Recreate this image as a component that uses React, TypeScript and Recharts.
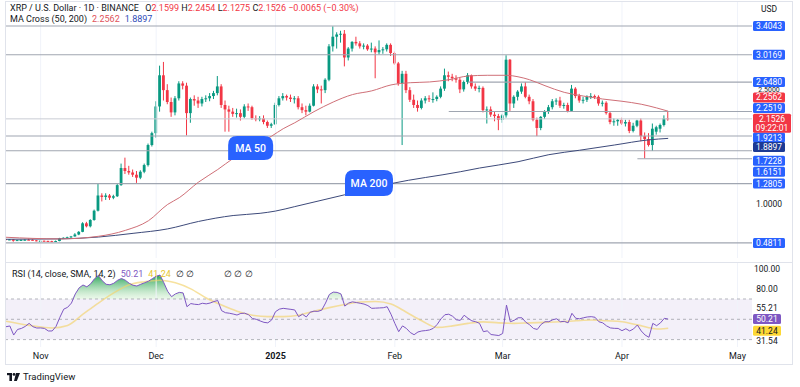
import React from 'react';
import {
  ComposedChart, Bar, Line, Area, XAxis, YAxis, ReferenceLine, ReferenceArea, ReferenceDot,
} from 'recharts';

// daily candles, XRP/USDT, 23 Oct 2024 .. 13 Apr 2025 (index = day number)
const openP = [
  0.532, 0.525, 0.528, 0.51, 0.519, 0.521, 0.524, 0.523, 0.516, 0.508,
  0.51, 0.508, 0.504, 0.497, 0.506, 0.543, 0.55, 0.557, 0.568, 0.594,
  0.63, 0.745, 0.705, 0.79, 0.915, 1.12, 1.1, 1.12, 1.09, 1.11,
  1.26, 1.49, 1.45, 1.43, 1.4, 1.36, 1.44, 1.53, 1.8, 1.96,
  2.32, 2.74, 2.54, 2.38, 2.24, 2.43, 2.63, 2.6, 2.23, 2.42,
  2.4, 2.36, 2.42, 2.43, 2.46, 2.5, 2.59, 2.34, 2.28, 2.25,
  2.22, 2.23, 2.18, 2.32, 2.31, 2.16, 2.15, 2.16, 2.11, 2.06,
  2.08, 2.34, 2.43, 2.46, 2.44, 2.42, 2.43, 2.31, 2.27, 2.25,
  2.33, 2.59, 2.55, 2.54, 2.68, 3.13, 3.26, 3.29, 3.3, 2.98,
  3.1, 3.19, 3.17, 3.13, 3.14, 3.09, 3.1, 3.05, 3.08, 3.09,
  3.15, 3.04, 2.9, 2.63, 2.76, 2.54, 2.41, 2.34, 2.3, 2.4,
  2.43, 2.42, 2.42, 2.45, 2.56, 2.74, 2.72, 2.7, 2.68, 2.55,
  2.65, 2.74, 2.59, 2.56, 2.57, 2.27, 2.28, 2.21, 2.19, 2.14,
  2.2, 2.95, 2.36, 2.45, 2.52, 2.59, 2.45, 2.39, 2.14, 2.03,
  2.18, 2.25, 2.31, 2.39, 2.4, 2.33, 2.34, 2.26, 2.56, 2.46,
  2.4, 2.41, 2.45, 2.46, 2.45, 2.36, 2.37, 2.23, 2.11, 2.12,
  2.14, 2.09, 2.11, 1.99, 2.06, 2.13, 1.92, 1.88, 1.8, 1.98,
  2.02, 2.07, 2.1599,
];
const highP = [
  0.536, 0.533, 0.532, 0.522, 0.526, 0.53, 0.538, 0.529, 0.52, 0.52,
  0.514, 0.51, 0.51, 0.513, 0.549, 0.556, 0.565, 0.575, 0.612, 0.64,
  0.76, 0.765, 0.8, 0.93, 1.28, 1.15, 1.15, 1.14, 1.13, 1.28,
  1.55, 1.63, 1.52, 1.47, 1.45, 1.46, 1.55, 1.82, 1.98, 2.39,
  2.87, 2.92, 2.62, 2.44, 2.46, 2.66, 2.66, 2.64, 2.44, 2.47,
  2.45, 2.45, 2.47, 2.5, 2.53, 2.73, 2.62, 2.4, 2.33, 2.3,
  2.29, 2.28, 2.35, 2.36, 2.33, 2.2, 2.19, 2.2, 2.13, 2.1,
  2.37, 2.46, 2.5, 2.48, 2.48, 2.46, 2.46, 2.36, 2.33, 2.36,
  2.62, 2.62, 2.6, 2.7, 3.16, 3.4, 3.32, 3.34, 3.35, 3.12,
  3.2, 3.26, 3.2, 3.17, 3.16, 3.18, 3.13, 3.21, 3.12, 3.17,
  3.17, 3.06, 2.92, 2.8, 2.8, 2.58, 2.48, 2.4, 2.43, 2.46,
  2.47, 2.51, 2.47, 2.59, 2.83, 2.79, 2.76, 2.74, 2.71, 2.67,
  2.77, 2.75, 2.63, 2.6, 2.59, 2.32, 2.32, 2.25, 2.22, 2.22,
  3.01, 2.96, 2.47, 2.54, 2.63, 2.65, 2.48, 2.42, 2.17, 2.19,
  2.27, 2.34, 2.42, 2.43, 2.45, 2.37, 2.37, 2.61, 2.58, 2.49,
  2.45, 2.47, 2.5, 2.48, 2.47, 2.4, 2.39, 2.25, 2.16, 2.15,
  2.17, 2.14, 2.14, 2.1, 2.14, 2.16, 1.97, 1.96, 2.09, 2.06,
  2.09, 2.2, 2.2454,
];
const lowP = [
  0.514, 0.518, 0.497, 0.507, 0.515, 0.512, 0.52, 0.514, 0.502, 0.5,
  0.503, 0.494, 0.493, 0.495, 0.503, 0.536, 0.545, 0.55, 0.565, 0.585,
  0.625, 0.69, 0.69, 0.78, 0.905, 1.04, 1.06, 1.06, 1.07, 1.1,
  1.25, 1.41, 1.4, 1.37, 1.29, 1.34, 1.42, 1.51, 1.78, 1.9,
  2.25, 2.4, 2.35, 2.18, 2.2, 2.4, 2.55, 1.93, 2.1, 2.33,
  2.3, 2.32, 2.38, 2.39, 2.42, 2.47, 2.3, 1.98, 1.98, 2.18,
  2.17, 2.13, 2.16, 2.26, 2.14, 2.12, 2.12, 2.08, 2.03, 2.03,
  2.07, 2.32, 2.4, 2.4, 2.38, 2.36, 2.28, 2.23, 2.2, 2.24,
  2.32, 2.5, 2.36, 2.5, 2.66, 3.06, 3.1, 3.18, 2.86, 2.94,
  3.06, 3.14, 3.1, 3.09, 3.07, 3.05, 2.7, 3.02, 3.03, 3.06,
  3.0, 2.88, 2.6, 1.8, 2.5, 2.38, 2.3, 2.25, 2.28, 2.36,
  2.38, 2.37, 2.39, 2.43, 2.53, 2.66, 2.66, 2.64, 2.5, 2.52,
  2.62, 2.56, 2.53, 2.51, 2.24, 2.09, 2.18, 2.12, 2.0, 2.1,
  2.17, 2.26, 2.3, 2.4, 2.49, 2.43, 2.35, 2.12, 1.92, 2.0,
  2.15, 2.22, 2.28, 2.34, 2.3, 2.29, 2.24, 2.25, 2.43, 2.37,
  2.36, 2.38, 2.42, 2.42, 2.33, 2.32, 2.21, 2.08, 2.06, 2.06,
  2.07, 2.05, 1.96, 1.97, 2.04, 1.85, 1.62, 1.78, 1.72, 1.94,
  1.97, 2.05, 2.1275,
];
const closeP = [
  0.525, 0.528, 0.51, 0.519, 0.521, 0.524, 0.523, 0.516, 0.508, 0.51,
  0.508, 0.504, 0.497, 0.506, 0.543, 0.55, 0.557, 0.568, 0.594, 0.63,
  0.745, 0.705, 0.79, 0.915, 1.12, 1.1, 1.12, 1.09, 1.11, 1.26,
  1.49, 1.45, 1.43, 1.4, 1.36, 1.44, 1.53, 1.8, 1.96, 2.32,
  2.74, 2.54, 2.38, 2.24, 2.43, 2.63, 2.6, 2.23, 2.42, 2.4,
  2.36, 2.42, 2.43, 2.46, 2.5, 2.59, 2.34, 2.28, 2.25, 2.22,
  2.23, 2.18, 2.32, 2.31, 2.16, 2.15, 2.16, 2.11, 2.06, 2.08,
  2.34, 2.43, 2.46, 2.44, 2.42, 2.43, 2.31, 2.27, 2.25, 2.33,
  2.59, 2.55, 2.54, 2.68, 3.13, 3.26, 3.29, 3.3, 2.98, 3.1,
  3.19, 3.17, 3.13, 3.14, 3.09, 3.1, 3.05, 3.08, 3.09, 3.15,
  3.04, 2.9, 2.63, 2.76, 2.54, 2.41, 2.34, 2.3, 2.4, 2.43,
  2.42, 2.42, 2.45, 2.56, 2.74, 2.72, 2.7, 2.68, 2.55, 2.65,
  2.74, 2.59, 2.56, 2.57, 2.27, 2.28, 2.21, 2.19, 2.14, 2.2,
  2.95, 2.36, 2.45, 2.52, 2.59, 2.45, 2.39, 2.14, 2.03, 2.18,
  2.25, 2.31, 2.39, 2.4, 2.33, 2.34, 2.26, 2.56, 2.46, 2.4,
  2.41, 2.45, 2.46, 2.45, 2.36, 2.37, 2.23, 2.11, 2.12, 2.14,
  2.09, 2.11, 1.99, 2.06, 2.13, 1.92, 1.88, 1.8, 2.02, 2.04,
  2.07, 2.16, 2.1526,
];
const rsiVals = [
  42.7, 43.4, 34.5, 40, 41, 43, 46, 42.7, 41.4, 41.5,
  41, 38.5, 38.5, 43, 52, 60, 61.8, 66, 75, 81,
  83.8, 82, 85, 90, 93.2, 88, 84.5, 84, 85.5, 88.5,
  90.2, 88.5, 85.5, 83.5, 82.8, 84.5, 86, 87.5, 90, 92.4,
  93.6, 86, 77.5, 72.3, 75, 76.5, 76, 62.4, 65.5, 64.8,
  64.5, 65.8, 65.2, 66, 67.5, 68.5, 58.5, 56.5, 56, 55.2,
  54.2, 55.8, 56, 54.5, 50.8, 50, 48.4, 47, 46.5, 49.3,
  57.5, 60, 60.8, 60.3, 59.8, 59.2, 52.6, 55, 52.3, 57,
  58, 57.8, 59, 66, 74.5, 76.8, 76.5, 75, 63, 66,
  67.2, 66.5, 65.8, 65, 63.5, 60.8, 61, 61.2, 61.4, 62.4,
  55, 46, 37.8, 43.5, 41, 37, 34.8, 37.5, 38.5, 38.9,
  39.5, 41.1, 45, 50.5, 54.5, 55, 53, 49.5, 49, 54,
  51, 48.5, 47.6, 46, 37.8, 38.6, 35, 34.5, 34, 36,
  64, 47.6, 49, 51.5, 51.5, 47.2, 44.6, 41, 40, 45,
  47.6, 47.6, 49.5, 50.5, 47.6, 48, 46.5, 55.9, 51, 50.5,
  51.5, 52.3, 52.6, 52, 47.6, 46.5, 43.5, 41.5, 41.1, 41,
  38.8, 40.7, 38.5, 40.5, 44.4, 38.5, 34.5, 32.3, 46, 43.7,
  46.5, 51, 50.21,
];

const ma50Days = [0, 14, 24, 31, 37, 42, 45, 50, 55, 59, 64, 69, 72, 75, 80, 85, 90, 95, 100, 105,
  110, 115, 120, 125, 130, 133, 136, 140, 145, 150, 155, 160, 165, 169, 172];
const ma50Vals = [0.557, 0.535, 0.57, 0.65, 0.78, 1.0, 1.09, 1.3, 1.47, 1.62, 1.78, 1.92, 2.02, 2.1, 2.25,
  2.38, 2.48, 2.53, 2.61, 2.64, 2.65, 2.68, 2.73, 2.74, 2.74, 2.72, 2.68, 2.6, 2.51, 2.46, 2.42, 2.39,
  2.35, 2.3, 2.2562];
const ma200Days = [0, 14, 24, 33, 42, 50, 59, 66, 70, 75, 88, 100, 118, 123, 133, 141, 149, 158, 167, 172];
const ma200Vals = [0.53, 0.535, 0.56, 0.61, 0.67, 0.77, 0.85, 0.88, 0.91, 0.97, 1.13, 1.28, 1.44, 1.49,
  1.575, 1.67, 1.73, 1.8, 1.87, 1.8897];
const rsiMaDays = [0, 6, 12, 16, 20, 24, 28, 32, 36, 40, 44, 48, 52, 56, 60, 64, 68, 72, 76, 80, 84, 88,
  92, 96, 100, 104, 108, 112, 116, 120, 124, 128, 132, 136, 140, 144, 148, 152, 156, 160, 164, 168, 170, 172];
const rsiMaVals = [48, 44, 41.5, 44, 55, 66, 76, 84, 87, 88.5, 86, 80, 71, 64, 58, 54, 52.6, 52.6, 54, 58,
  61.5, 64.5, 67, 67.5, 65, 57, 48.5, 42, 43.5, 46, 47.5, 46.5, 46, 46.5, 47, 47.6, 48.5, 49.3, 48.5,
  47.6, 44.5, 41, 40.5, 41.24];

const monthTicks = [9, 39, 70, 101, 129, 160, 190];
const monthLabels = ['Nov', 'Dec', '2025', 'Feb', 'Mar', 'Apr', 'May'];

// horizontal drawings and the day they start from (null = whole width)
const levels = [3.4043, 3.0169, 2.648, 2.2519, 1.9213, 1.7228, 1.6151, 1.2805, 0.4811];
const levelFrom: (number | null)[] = [null, null, 120, 115, null, null, 164, null, null];
const plainPriceTicks = [2.5, 1.0];

const lastClose = 2.1526;
const timer = '09:22:01';
const ma50Last = 2.2562;
const ma200Last = 1.8897;
const changeText = '−0.0065 (−0.30%)';
const rsiLast = 50.21;
const rsiMaLast = 41.24;
const rsiPlainTicks = [100, 80, 55.21, 31.54];

const maTagDays = [57.7, 88.05];
const maTagPrices = [1.598, 1.113];
const maTagTexts = ['MA 50', 'MA 200'];

// layout
const X_MIN = -0.26;
const X_MAX = 193.77;
const P_MIN = 0.2776;
const P_MAX = 3.7277;
const R_MIN = 22.71;
const R_MAX = 106.45;
const AXIS_X = 752;
const FONT = "Roboto, 'Noto Sans', sans-serif";

const RED = '#f23645';
const GREEN = '#089981';
const BLUE = '#2962ff';

const rows = openP.map((o, i) => ({ i, o, h: highP[i], l: lowP[i], c: closeP[i], rsi: rsiVals[i] }));
const ma50Data = ma50Days.map((d, k) => ({ i: d, v: ma50Vals[k] }));
const ma200Data = ma200Days.map((d, k) => ({ i: d, v: ma200Vals[k] }));
const rsiMaData = rsiMaDays.map((d, k) => ({ i: d, v: rsiMaVals[k] }));

const priceNudge: Record<string, number> = {
  '2.5': -3.5, '2.2562': -13.7, '2.2519': -3.5, '1.9213': 1.5, '1.8897': 8.6, '1.7228': 10, '1.6151': 13,
};
const rsiNudge: Record<string, number> = { '55.21': -5.7, '41.24': 2.5, '31.54': 3 };

const Candle = (props: any) => {
  const { x, y, width, height, payload } = props;
  if (x == null || y == null) return null;
  const { o, h, l, c } = payload;
  const top = Math.min(y, y + height);
  const bot = Math.max(y, y + height);
  const span = h - l || 1;
  const toY = (v: number) => top + ((h - v) / span) * (bot - top);
  const cx = x + width / 2;
  const color = c >= o ? GREEN : RED;
  const yo = toY(o);
  const yc = toY(c);
  const bt = Math.min(yo, yc);
  const bh = Math.max(1, Math.abs(yo - yc));
  return (
    <g>
      <line x1={cx} x2={cx} y1={top} y2={bot} stroke={color} strokeWidth={1} />
      <rect x={cx - 1.4} y={bt} width={2.8} height={bh} fill={color} />
    </g>
  );
};

const Box = ({ y, text, fill, color = '#fff', w = 32 }: any) => (
  <g>
    <rect x={AXIS_X + 1} y={y - 5} width={w} height={10} rx={1.5} fill={fill} />
    <text x={AXIS_X + 1 + w / 2} y={y + 3} textAnchor="middle" fontSize={8.5} fill={color} fontFamily={FONT}>
      {text}
    </text>
  </g>
);

const priceTick = (props: any) => {
  const v = props.payload.value as number;
  const y = props.y + (priceNudge[String(v)] ?? 0);
  const label = v.toFixed(4);
  if (v === lastClose) {
    return (
      <g>
        <rect x={AXIS_X + 1} y={y - 5} width={38} height={19} rx={1.5} fill={RED} />
        <text x={AXIS_X + 20} y={y + 3} textAnchor="middle" fontSize={8.5} fill="#fff" fontFamily={FONT}>{label}</text>
        <text x={AXIS_X + 20} y={y + 12} textAnchor="middle" fontSize={8.5} fill="#fff" fontFamily={FONT}>{timer}</text>
      </g>
    );
  }
  if (v === ma50Last) return <Box y={y} text={label} fill={RED} />;
  if (v === ma200Last) return <Box y={y} text={label} fill="#1c3a94" />;
  if (levels.includes(v)) return <Box y={y} text={label} fill={BLUE} />;
  const small = v === 2.5;
  return (
    <text x={AXIS_X + 17} y={y + (small ? 2.5 : 3)} textAnchor="middle" fontSize={small ? 7 : 8.5} fill="#131722" fontFamily={FONT}>{label}</text>
  );
};

const rsiTick = (props: any) => {
  const v = props.payload.value as number;
  const y = props.y + (rsiNudge[String(v)] ?? 0);
  const label = v.toFixed(2);
  if (v === rsiLast) return <Box y={y} text={label} fill="#7e57c2" w={28} />;
  if (v === rsiMaLast) return <Box y={y} text={label} fill="#fdd835" color="#131722" w={28} />;
  return (
    <text x={AXIS_X + 15} y={y + 3} textAnchor="middle" fontSize={8.5} fill="#131722" fontFamily={FONT}>{label}</text>
  );
};

const timeTick = (props: any) => {
  const v = props.payload.value as number;
  const label = monthLabels[monthTicks.indexOf(v)];
  return (
    <text x={props.x} y={props.y + 12} textAnchor="middle" fontSize={9} fill="#131722"
      fontWeight={label === '2025' ? 700 : 400} fontFamily={FONT}>
      {label}
    </text>
  );
};

const callout = (text: string, w: number, h: number) => (p: any) => {
  const { cx, cy } = p;
  const r = 9;
  const x1 = cx + w;
  const y0 = cy - h;
  const d = `M${cx},${cy} L${cx},${y0 + r} Q${cx},${y0} ${cx + r},${y0} L${x1 - r},${y0} Q${x1},${y0} ${x1},${y0 + r} L${x1},${cy - r} Q${x1},${cy} ${x1 - r},${cy} Z`;
  return (
    <g>
      <path d={d} fill={BLUE} />
      <text x={cx + w / 2} y={cy - h / 2 + 4} textAnchor="middle" fill="#fff" fontSize={10.5} fontWeight={500} fontFamily={FONT}>
        {text}
      </text>
    </g>
  );
};

const tagSizes = [[45, 24], [48, 26]];

export default function App() {
  const allPriceTicks = [...plainPriceTicks, ...levels, ma200Last, lastClose, ma50Last];
  const allRsiTicks = [...rsiPlainTicks, rsiMaLast, rsiLast];
  return (
    <div style={{ position: 'relative', width: 800, height: 387, background: '#fff', overflow: 'hidden', fontFamily: FONT }}>
      <style>{'body{margin:0}'}</style>

      <div style={{ position: 'absolute', left: 0, top: 0 }}>
        <ComposedChart width={800} height={260} data={rows} margin={{ top: 2, right: 0, bottom: 2, left: 5 }}>
          <XAxis dataKey="i" type="number" domain={[X_MIN, X_MAX]} allowDataOverflow hide />
          <YAxis orientation="right" width={48} type="number" domain={[P_MIN, P_MAX]} allowDataOverflow
            ticks={allPriceTicks} interval={0} tick={priceTick} tickSize={0} tickMargin={0}
            axisLine={false} tickLine={false} />
          {monthTicks.map((t) => (
            <ReferenceLine key={'g' + t} x={t} stroke="#f0f3fa" strokeWidth={1} />
          ))}
          {levels.map((v, k) => {
            const from = levelFrom[k];
            return from == null ? (
              <ReferenceLine key={'l' + k} y={v} stroke="#a0a6b1" strokeWidth={1.1} />
            ) : (
              <ReferenceLine key={'l' + k} segment={[{ x: from, y: v }, { x: X_MAX, y: v }]} stroke="#a0a6b1" strokeWidth={1.1} />
            );
          })}
          <ReferenceLine y={lastClose} stroke="#c9ccd4" strokeWidth={1} />
          <Line data={ma200Data} dataKey="v" type="monotone" stroke="#3d4a7a" strokeWidth={1} dot={false} isAnimationActive={false} />
          <Line data={ma50Data} dataKey="v" type="monotone" stroke="#cf6f77" strokeWidth={1} dot={false} isAnimationActive={false} />
          <Bar dataKey={(d: any) => [d.l, d.h]} barSize={3} shape={Candle} isAnimationActive={false} />
          {maTagDays.map((d, k) => (
            <ReferenceDot key={'t' + k} x={d} y={maTagPrices[k]} r={0}
              shape={callout(maTagTexts[k], tagSizes[k][0], tagSizes[k][1])} />
          ))}
        </ComposedChart>
      </div>

      <div style={{ position: 'absolute', left: 0, top: 258 }}>
        <ComposedChart width={800} height={107} data={rows} margin={{ top: 4, right: 0, bottom: 0, left: 5 }}>
          <defs>
            <linearGradient id="obFill" x1="0" y1="0" x2="0" y2="1">
              <stop offset="0%" stopColor="#1e9e50" stopOpacity={0.95} />
              <stop offset="100%" stopColor="#c8ecc4" stopOpacity={0.35} />
            </linearGradient>
          </defs>
          <XAxis dataKey="i" type="number" domain={[X_MIN, X_MAX]} allowDataOverflow ticks={monthTicks}
            interval={0} tick={timeTick} tickSize={0} tickMargin={0} axisLine={false} tickLine={false} height={18} />
          <YAxis orientation="right" width={48} type="number" domain={[R_MIN, R_MAX]} allowDataOverflow
            ticks={allRsiTicks} interval={0} tick={rsiTick} tickSize={0} tickMargin={0}
            axisLine={false} tickLine={false} />
          {monthTicks.map((t) => (
            <ReferenceLine key={'rg' + t} x={t} stroke="#f0f3fa" strokeWidth={1} />
          ))}
          <ReferenceArea y1={30} y2={70} x1={X_MIN} x2={X_MAX} fill="#7e57c2" fillOpacity={0.09} stroke="none" />
          {[70, 50, 30].map((v) => (
            <ReferenceLine key={'rl' + v} y={v} stroke="#9598a1" strokeDasharray="3 3" strokeOpacity={0.7} />
          ))}
          <Area dataKey={(d: any) => [70, Math.max(70, d.rsi)]} type="linear" stroke="none" fill="url(#obFill)"
            fillOpacity={1} isAnimationActive={false} />
          <Line data={rsiMaData} dataKey="v" type="monotone" stroke="#f2d36b" strokeOpacity={0.65} strokeWidth={1.6}
            dot={false} isAnimationActive={false} />
          <Line dataKey="rsi" type="linear" stroke="#7e57c2" strokeWidth={1} dot={false} isAnimationActive={false} />
        </ComposedChart>
      </div>

      {/* frame */}
      <div style={{ position: 'absolute', left: 5, top: 1, width: 788, height: 364, border: '1px solid #e0e3eb', boxSizing: 'border-box', pointerEvents: 'none' }} />
      <div style={{ position: 'absolute', left: 5, top: 262, width: 788, height: 1, background: '#e0e3eb' }} />

      {/* legends */}
      <div style={{ position: 'absolute', left: 10, top: 3, fontSize: 9, color: '#131722', whiteSpace: 'nowrap', lineHeight: '11px' }}>
        XRP / U.S. Dollar · 1D · BINANCE{'  '}
        <span style={{ marginLeft: 4 }}>O</span><span style={{ color: RED }}>{openP[172].toFixed(4)}</span>{' '}
        H<span style={{ color: RED }}>{highP[172].toFixed(4)}</span>{' '}
        L<span style={{ color: RED }}>{lowP[172].toFixed(4)}</span>{' '}
        C<span style={{ color: RED }}>{closeP[172].toFixed(4)}</span>{' '}
        <span style={{ color: RED }}>{changeText}</span>
      </div>
      <div style={{ position: 'absolute', left: 10, top: 14, fontSize: 9, color: '#131722', whiteSpace: 'nowrap', lineHeight: '11px' }}>
        MA Cross (50, 200)
        <span style={{ color: '#e0525b', marginLeft: 5 }}>{ma50Last.toFixed(4)}</span>
        <span style={{ color: '#2f4cb8', marginLeft: 5 }}>{ma200Last.toFixed(4)}</span>
      </div>
      <div style={{ position: 'absolute', left: 755, top: 4, width: 28, textAlign: 'center', fontSize: 8.5, color: '#131722' }}>USD</div>
      <div style={{ position: 'absolute', left: 12, top: 269, fontSize: 9, color: '#131722', whiteSpace: 'nowrap', lineHeight: '11px' }}>
        RSI (14, close, SMA, 14, 2)
        <span style={{ color: '#7e57c2', marginLeft: 5 }}>{rsiLast.toFixed(2)}</span>
        <span style={{ color: '#e6c630', marginLeft: 5 }}>{rsiMaLast.toFixed(2)}</span>
        <span style={{ marginLeft: 5 }}>∅ ∅</span>
        <span style={{ marginLeft: 30 }}>∅ ∅ ∅</span>
      </div>

      {/* logo */}
      <div style={{ position: 'absolute', left: 7, top: 371, display: 'flex', alignItems: 'center', gap: 3 }}>
        <svg width={13} height={8} viewBox="0 0 13 8">
          <rect x={0} y={0} width={5} height={2.2} fill="#131722" />
          <rect x={2.4} y={0} width={2.6} height={8} fill="#131722" />
          <circle cx={7} cy={1.4} r={1.4} fill="#131722" />
          <polygon points="9,0 13,0 9.8,8 7,8" fill="#131722" />
        </svg>
        <span style={{ fontSize: 9.5, color: '#131722' }}>TradingView</span>
      </div>
    </div>
  );
}
